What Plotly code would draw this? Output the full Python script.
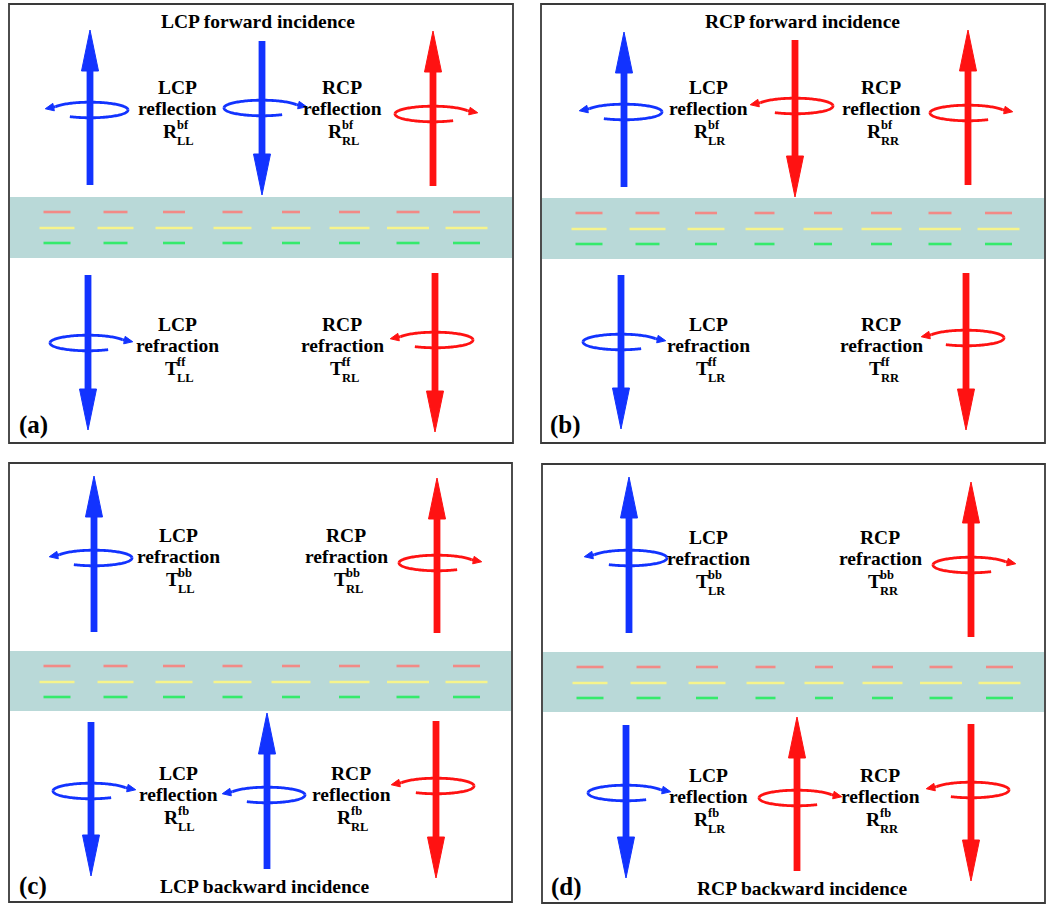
import numpy as np
import plotly.graph_objects as go

W, H = 1054, 905
BLUE = "#1233ff"
RED = "#ff1212"
BAND = "#b9d9d8"
DASH_COLORS = ["#f28a86", "#f6f48c", "#35ea6c"]
FONT = "Liberation Serif"

# ---------------- panels ----------------
panel_names = ["(a)", "(b)", "(c)", "(d)"]
panel_titles = ["LCP forward incidence", "RCP forward incidence",
                "LCP backward incidence", "RCP backward incidence"]
panel_left = [9, 541, 9, 542]
panel_right = [513, 1045, 512, 1045]
panel_top = [4, 4, 463, 464]
panel_bottom = [443, 443, 902, 903]
band_top = [197, 198, 651, 652]
band_bottom = [258, 259, 711, 712]
title_x = [258, 802, 264, 802]
title_y = [21, 21, 886, 888]

# dashes inside the metasurface band (offsets from panel left)
dash_centre = [48, 106.5, 165, 223.5, 282, 340.5, 399, 457.5]
red_len = [27, 24, 22, 20, 18, 21, 23, 27]
yellow_len = [35, 36, 37, 38, 39, 40, 42, 42]
green_len = [27, 24, 22, 20, 18, 21, 23, 27]
dash_dy = [15, 31, 46]

# ---------------- beams ----------------
beam_panel = [0, 0, 0, 0, 0,
              1, 1, 1, 1, 1,
              2, 2, 2, 2, 2,
              3, 3, 3, 3, 3]
beam_x = [90, 262, 433, 88, 435,
          624, 795, 968, 621, 966,
          94, 437, 91, 267, 436,
          629, 971, 626, 797, 971]
beam_tail = [185, 41, 186, 275, 273,
             187, 40, 185, 275, 273,
             632, 633, 722, 869, 721,
             633, 637, 725, 871, 724]
beam_tip = [30, 195, 31, 430, 432,
            32, 197, 30, 429, 430,
            476, 478, 876, 713, 878,
            477, 482, 878, 717, 881]
beam_pol = ["L", "L", "R", "L", "R",
            "L", "R", "R", "L", "R",
            "L", "R", "L", "L", "R",
            "L", "R", "L", "R", "R"]
ring_cy = [110, 108, 114, 343, 340,
           112, 106, 113, 342, 338,
           558, 563, 791, 795, 786,
           558, 565, 793, 798, 790]

# ---------------- labels ----------------
label_x = [177, 342, 177, 342,
           708, 881, 708, 881,
           178, 346, 178, 351,
           708, 880, 708, 880]
label_y = [87, 87, 324, 324,
           87, 87, 324, 324,
           535, 535, 773, 773,
           537, 537, 775, 775]
label_l1 = ["LCP", "RCP", "LCP", "RCP"] * 4
label_l2 = ["reflection", "reflection", "refraction", "refraction",
            "reflection", "reflection", "refraction", "refraction",
            "refraction", "refraction", "reflection", "reflection",
            "refraction", "refraction", "reflection", "reflection"]
label_sym = ["R", "R", "T", "T", "R", "R", "T", "T",
             "T", "T", "R", "R", "T", "T", "R", "R"]
label_sup = ["bf", "bf", "ff", "ff", "bf", "bf", "ff", "ff",
             "bb", "bb", "fb", "fb", "bb", "bb", "fb", "fb"]
label_sub = ["LL", "RL", "LL", "RL", "LR", "RR", "LR", "RR",
             "LL", "RL", "LL", "RL", "LR", "RR", "LR", "RR"]

shapes = []
annotations = []


def add_shape(**kw):
    kw.setdefault("xref", "x")
    kw.setdefault("yref", "y")
    shapes.append(kw)


def path_from(xs, ys, close=False):
    s = "M " + " L ".join(f"{x:.2f},{y:.2f}" for x, y in zip(xs, ys))
    return s + (" Z" if close else "")


def text(x, y, s, size, xanchor="center"):
    annotations.append(dict(x=x, y=y, text="<b>" + s + "</b>", showarrow=False,
                            xanchor=xanchor, yanchor="middle", borderpad=0, borderwidth=0,
                            font=dict(family=FONT, size=size, color="black")))


# panels and bands
for i in range(4):
    L, R_, T, B = panel_left[i], panel_right[i], panel_top[i], panel_bottom[i]
    add_shape(type="rect", x0=L, x1=R_, y0=T, y1=B,
              line=dict(color="#3a3a3a", width=1.8), fillcolor="white", layer="below")
    add_shape(type="rect", x0=L + 1, x1=R_ - 1, y0=band_top[i], y1=band_bottom[i],
              line=dict(width=0), fillcolor=BAND, layer="below")
    for k, c in enumerate(dash_centre):
        for lens, col, dy in zip([red_len, yellow_len, green_len], DASH_COLORS, dash_dy):
            xc = L + c
            add_shape(type="line", x0=xc - lens[k] / 2, x1=xc + lens[k] / 2,
                      y0=band_top[i] + dy, y1=band_top[i] + dy,
                      line=dict(color=col, width=2.6))
    text(title_x[i], title_y[i], panel_titles[i], 19.5)
    text(L + 24, (T + 421) if i < 2 else (T + 423), panel_names[i], 25)

# beams with rotation rings (back half of ring behind the shaft, front half over it)
for j in range(len(beam_x)):
    col = BLUE if beam_pol[j] == "L" else RED
    x, y0, y1 = beam_x[j], beam_tail[j], beam_tip[j]
    d = np.sign(y1 - y0)
    going_down = d > 0
    right = (beam_pol[j] == "L" and going_down) or (beam_pol[j] == "R" and not going_down)
    rx, ry = 38, 7.8
    cy = ring_cy[j]
    if right:
        th = np.radians(np.linspace(58, 335, 120))
    else:
        th = np.radians(np.linspace(122, -155, 120))
    xs = x + rx * np.cos(th)
    ys = cy + ry * np.sin(th)
    front = np.sin(th) >= 0
    # back part (top arc)
    add_shape(type="path", path=path_from(xs[~front], ys[~front]), line=dict(color=col, width=2.8))
    # shaft + head
    head_len, head_half, shaft_w = 41, 8.5, 6.8
    base = y1 - d * head_len
    add_shape(type="line", x0=x, x1=x, y0=y0, y1=base + d * 2,
              line=dict(color=col, width=shaft_w))
    add_shape(type="path", path=path_from([x - head_half, x + head_half, x],
                                          [base, base, y1], close=True),
              fillcolor=col, line=dict(color=col, width=1))
    # front part (bottom arc) and its joints
    idx = np.where(front)[0]
    seg_end = idx[-1] + 2 if idx[-1] + 2 <= len(xs) else len(xs)
    add_shape(type="path", path=path_from(xs[idx[0]:seg_end], ys[idx[0]:seg_end]),
              line=dict(color=col, width=2.8))
    # small arrowhead at the free end
    v = np.array([1.0 if right else -1.0, 0.2])
    v /= np.linalg.norm(v)
    nrm = np.array([-v[1], v[0]])
    ex, ey = xs[-1] + v[0] * 2, ys[-1] + v[1] * 2
    tip = (ex + 8.5 * v[0], ey + 8.5 * v[1])
    p1 = (ex + 3.8 * nrm[0], ey + 3.8 * nrm[1])
    p2 = (ex - 3.8 * nrm[0], ey - 3.8 * nrm[1])
    add_shape(type="line", x0=xs[-1], y0=ys[-1], x1=ex, y1=ey, line=dict(color=col, width=2.8))
    add_shape(type="path", path=path_from([p1[0], tip[0], p2[0]], [p1[1], tip[1], p2[1]], close=True),
              fillcolor=col, line=dict(color=col, width=1))

# labels
for k in range(len(label_x)):
    cx, cy = label_x[k], label_y[k]
    text(cx, cy, label_l1[k], 19.5)
    text(cx, cy + 21, label_l2[k], 19.5)
    text(cx + 0.5, cy + 44.5, label_sym[k], 19.5, xanchor="right")
    text(cx - 0.5, cy + 37.5, label_sup[k], 12.5, xanchor="left")
    text(cx - 0.5, cy + 53.5, label_sub[k], 12.5, xanchor="left")

fig = go.Figure()
fig.add_trace(go.Scatter(x=[0, W], y=[0, H], mode="markers", marker=dict(opacity=0),
                         hoverinfo="skip", showlegend=False))
fig.update_layout(
    width=W, height=H, margin=dict(l=0, r=0, t=0, b=0),
    paper_bgcolor="white", plot_bgcolor="white",
    xaxis=dict(range=[0, W], visible=False, fixedrange=True),
    yaxis=dict(range=[H, 0], visible=False, fixedrange=True),
    shapes=shapes, annotations=annotations, showlegend=False,
)
fig.write_html("out.html")
